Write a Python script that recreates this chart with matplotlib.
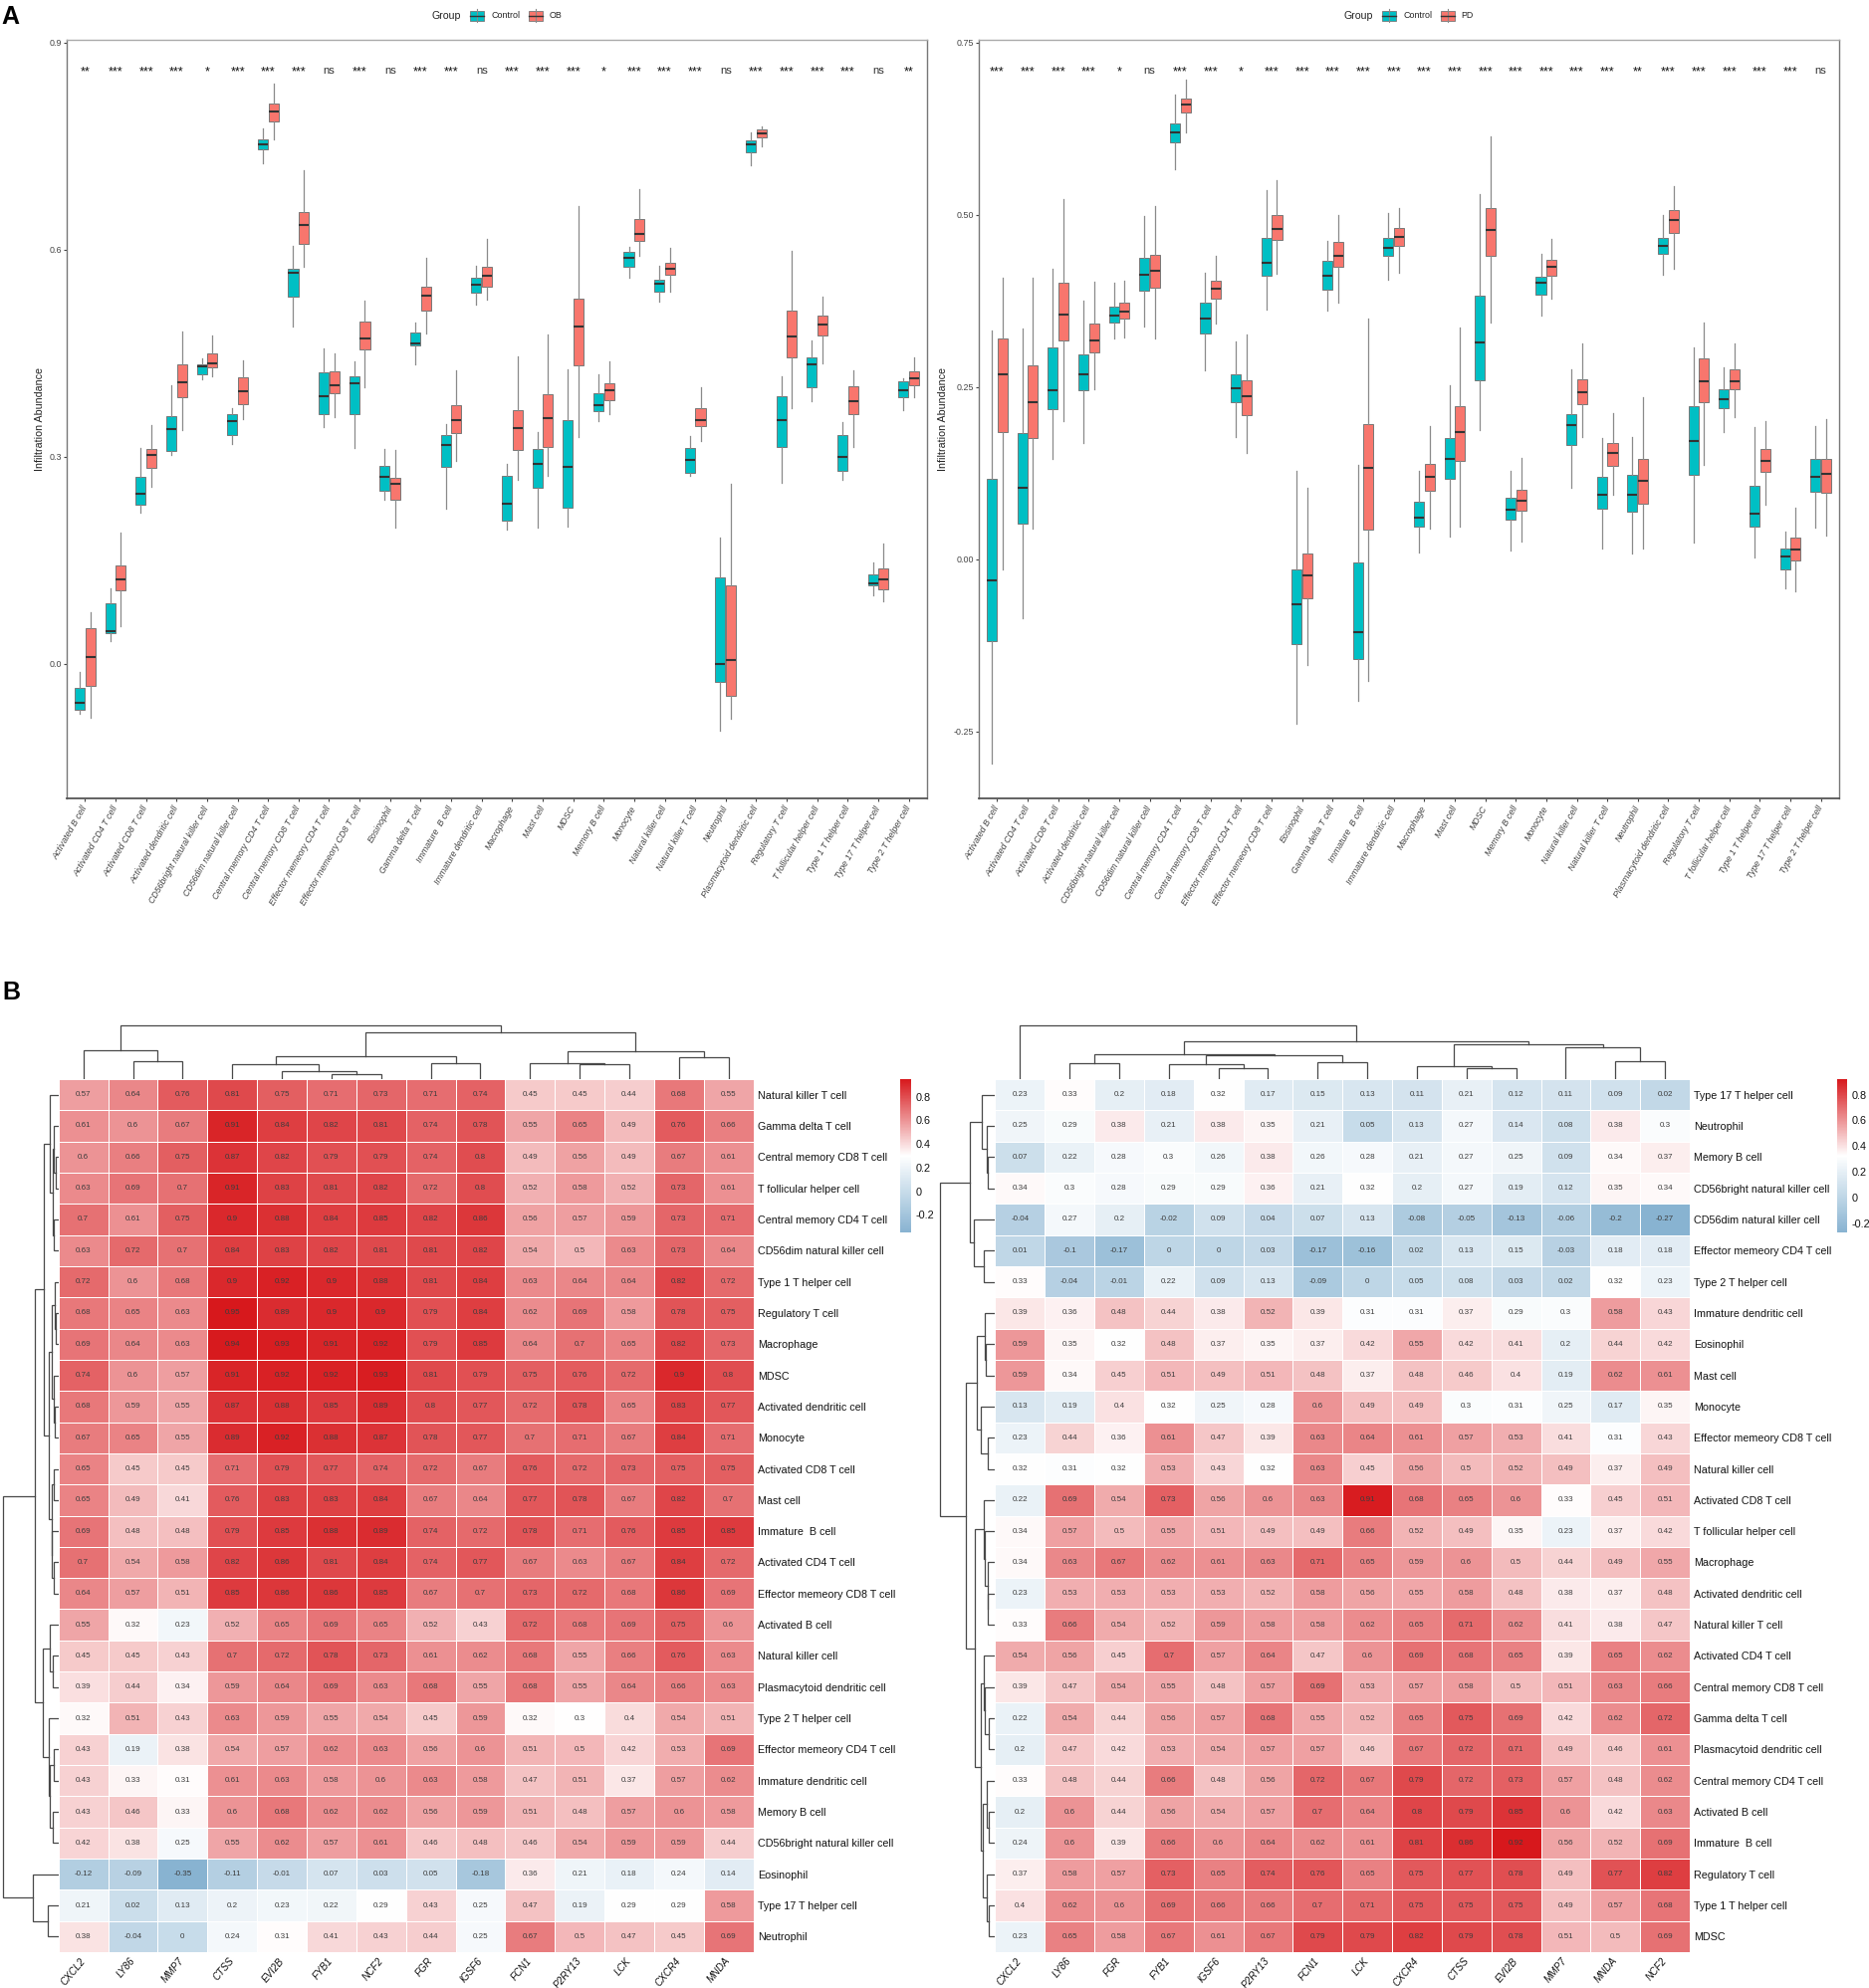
import numpy as np
import matplotlib
matplotlib.use("Agg")
import matplotlib.pyplot as plt
from matplotlib.colors import LinearSegmentedColormap
from matplotlib.patches import Rectangle
from matplotlib.lines import Line2D

plt.rcParams['font.family'] = ['Liberation Sans', 'DejaVu Sans']

W, H = 1877, 1997

cell_types = ['Activated B cell', 'Activated CD4 T cell', 'Activated CD8 T cell', 'Activated dendritic cell',
              'CD56bright natural killer cell', 'CD56dim natural killer cell', 'Central memory CD4 T cell',
              'Central memory CD8 T cell', 'Effector memeory CD4 T cell', 'Effector memeory CD8 T cell',
              'Eosinophil', 'Gamma delta T cell', 'Immature  B cell', 'Immature dendritic cell', 'Macrophage',
              'Mast cell', 'MDSC', 'Memory B cell', 'Monocyte', 'Natural killer cell', 'Natural killer T cell',
              'Neutrophil', 'Plasmacytoid dendritic cell', 'Regulatory T cell', 'T follicular helper cell',
              'Type 1 T helper cell', 'Type 17 T helper cell', 'Type 2 T helper cell']

# box values: whisker low, q1, median, q3, whisker high
ob_control = [(-.073, -.066, -.057, -.035, -.012), (.033, .045, .048, .087, .11), (.219, .231, .246, .271, .313),
              (.303, .309, .340, .359, .404), (.412, .420, .431, .434, .443), (.318, .332, .351, .361, .371),
              (.725, .745, .752, .760, .776), (.488, .532, .566, .572, .606), (.343, .361, .388, .423, .457),
              (.313, .361, .406, .416, .438), (.238, .25, .271, .287, .311), (.434, .461, .464, .48, .494),
              (.225, .285, .317, .331, .348), (.521, .537, .549, .559, .577), (.195, .207, .232, .272, .289),
              (.198, .255, .29, .311, .336), (.199, .226, .285, .353, .427), (.351, .366, .375, .392, .419),
              (.559, .575, .588, .597, .604), (.524, .539, .551, .557, .577), (.273, .276, .296, .313, .33),
              (-.097, -.026, -.001, .125, .183), (.722, .741, .752, .759, .77), (.2625, .314, .353, .388, .416),
              (.381, .40, .434, .444, .469), (.266, .28, .299, .332, .35), (.099, .113, .116, .13, .147),
              (.368, .386, .397, .409, .413)]
ob_case = [(-.078, -.032, .010, .052, .074), (.054, .106, .123, .143, .19), (.257, .284, .303, .311, .346),
           (.339, .386, .408, .434, .482), (.416, .430, .435, .45, .475), (.355, .376, .395, .415, .439),
           (.760, .786, .80, .812, .841), (.575, .608, .636, .655, .715), (.357, .392, .403, .424, .45),
           (.401, .456, .472, .496, .526), (.197, .237, .261, .27, .31), (.479, .512, .533, .546, .588),
           (.294, .334, .353, .375, .425), (.528, .547, .562, .575, .616), (.266, .31, .342, .367, .446),
           (.273, .314, .356, .39, .477), (.328, .432, .488, .529, .663), (.361, .382, .397, .406, .438),
           (.591, .612, .623, .645, .688), (.539, .563, .572, .581, .603), (.323, .345, .353, .37, .401),
           (-.08, -.047, .006, .113, .261), (.75, .763, .768, .774, .778), (.37, .444, .474, .512, .598),
           (.435, .476, .491, .504, .532), (.314, .361, .381, .402, .425), (.09, .108, .123, .1375, .174),
           (.386, .404, .414, .424, .444)]
ob_sig = ['**', '***', '***', '***', '*', '***', '***', '***', 'ns', '***', 'ns', '***', '***', 'ns',
          '***', '***', '***', '*', '***', '***', '***', 'ns', '***', '***', '***', '***', 'ns', '**']

pd_control = [(-.297, -.119, -.031, .1166, .332), (-.085, .0525, .1045, .183, .335), (.145, .218, .246, .307, .421),
              (.169, .245, .269, .298, .376), (.320, .343, .354, .367, .401), (.338, .39, .413, .437, .498),
              (.566, .605, .619, .633, .675), (.275, .328, .35, .373, .416), (.177, .228, .248, .269, .316),
              (.363, .411, .43, .466, .536), (-.239, -.123, -.065, -.015, .128), (.361, .392, .412, .433, .462),
              (-.206, -.145, -.105, -.004, .137), (.406, .44, .452, .467, .502), (.01, .047, .061, .083, .128),
              (.033, .117, .145, .176, .252), (.188, .26, .315, .382, .53), (.013, .057, .072, .09, .129),
              (.354, .384, .402, .41, .444), (.104, .166, .195, .211, .276), (.015, .074, .094, .12, .176),
              (.009, .069, .094, .123, .177), (.413, .443, .455, .467, .499), (.024, .123, .172, .222, .307),
              (.184, .22, .232, .247, .279), (.003, .048, .066, .106, .192), (-.042, -.015, .004, .015, .04),
              (.046, .098, .12, .146, .193)]
pd_case = [(-.015, .185, .268, .320, .408), (.044, .176, .228, .281, .408), (.201, .317, .355, .402, .523),
           (.247, .301, .317, .342, .403), (.322, .349, .36, .372, .404), (.321, .394, .419, .442, .512),
           (.62, .648, .66, .669, .696), (.342, .378, .393, .405, .44), (.155, .21, .237, .26, .326),
           (.414, .463, .48, .499, .55), (-.154, -.057, -.024, .008, .104), (.372, .424, .44, .46, .5),
           (-.177, .043, .133, .196, .35), (.416, .455, .468, .481, .51), (.045, .099, .12, .138, .193),
           (.047, .143, .184, .223, .337), (.344, .44, .478, .51, .614), (.026, .07, .085, .101, .147),
           (.378, .412, .424, .435, .465), (.177, .225, .243, .262, .313), (.094, .136, .154, .169, .212),
           (.016, .08, .114, .145, .235), (.422, .473, .493, .507, .541), (.137, .228, .258, .291, .343),
           (.207, .247, .258, .276, .313), (.079, .127, .143, .16, .201), (-.047, -.002, .014, .031, .075),
           (.034, .097, .124, .145, .204)]
pd_sig = ['***', '***', '***', '***', '*', 'ns', '***', '***', '*', '***', '***', '***', '***', '***',
          '***', '***', '***', '***', '***', '***', '***', '**', '***', '***', '***', '***', '***', 'ns']

ob_genes = ['CXCL2', 'LY86', 'MMP7', 'CTSS', 'EVI2B', 'FYB1', 'NCF2', 'FGR', 'IGSF6', 'FCN1', 'P2RY13', 'LCK', 'CXCR4', 'MNDA']
ob_rows = ['Natural killer T cell', 'Gamma delta T cell', 'Central memory CD8 T cell', 'T follicular helper cell',
           'Central memory CD4 T cell', 'CD56dim natural killer cell', 'Type 1 T helper cell', 'Regulatory T cell',
           'Macrophage', 'MDSC', 'Activated dendritic cell', 'Monocyte', 'Activated CD8 T cell', 'Mast cell',
           'Immature  B cell', 'Activated CD4 T cell', 'Effector memeory CD8 T cell', 'Activated B cell',
           'Natural killer cell', 'Plasmacytoid dendritic cell', 'Type 2 T helper cell', 'Effector memeory CD4 T cell',
           'Immature dendritic cell', 'Memory B cell', 'CD56bright natural killer cell', 'Eosinophil',
           'Type 17 T helper cell', 'Neutrophil']
ob_corr = [[.57, .64, .76, .81, .75, .71, .73, .71, .74, .45, .45, .44, .68, .55],
           [.61, .6, .67, .91, .84, .82, .81, .74, .78, .55, .65, .49, .76, .66],
           [.6, .66, .75, .87, .82, .79, .79, .74, .8, .49, .56, .49, .67, .61],
           [.63, .69, .7, .91, .83, .81, .82, .72, .8, .52, .58, .52, .73, .61],
           [.7, .61, .75, .9, .88, .84, .85, .82, .86, .56, .57, .59, .73, .71],
           [.63, .72, .7, .84, .83, .82, .81, .81, .82, .54, .5, .63, .73, .64],
           [.72, .6, .68, .9, .92, .9, .88, .81, .84, .63, .64, .64, .82, .72],
           [.68, .65, .63, .95, .89, .9, .9, .79, .84, .62, .69, .58, .78, .75],
           [.69, .64, .63, .94, .93, .91, .92, .79, .85, .64, .7, .65, .82, .73],
           [.74, .6, .57, .91, .92, .92, .93, .81, .79, .75, .76, .72, .9, .8],
           [.68, .59, .55, .87, .88, .85, .89, .8, .77, .72, .78, .65, .83, .77],
           [.67, .65, .55, .89, .92, .88, .87, .78, .77, .7, .71, .67, .84, .71],
           [.65, .45, .45, .71, .79, .77, .74, .72, .67, .76, .72, .73, .75, .75],
           [.65, .49, .41, .76, .83, .83, .84, .67, .64, .77, .78, .67, .82, .7],
           [.69, .48, .48, .79, .85, .88, .89, .74, .72, .78, .71, .76, .85, .85],
           [.7, .54, .58, .82, .86, .81, .84, .74, .77, .67, .63, .67, .84, .72],
           [.64, .57, .51, .85, .86, .86, .85, .67, .7, .73, .72, .68, .86, .69],
           [.55, .32, .23, .52, .65, .69, .65, .52, .43, .72, .68, .69, .75, .6],
           [.45, .45, .43, .7, .72, .78, .73, .61, .62, .68, .55, .66, .76, .63],
           [.39, .44, .34, .59, .64, .69, .63, .68, .55, .68, .55, .64, .66, .63],
           [.32, .51, .43, .63, .59, .55, .54, .45, .59, .32, .3, .4, .54, .51],
           [.43, .19, .38, .54, .57, .62, .63, .56, .6, .51, .5, .42, .53, .69],
           [.43, .33, .31, .61, .63, .58, .6, .63, .58, .47, .51, .37, .57, .62],
           [.43, .46, .33, .6, .68, .62, .62, .56, .59, .51, .48, .57, .6, .58],
           [.42, .38, .25, .55, .62, .57, .61, .46, .48, .46, .54, .59, .59, .44],
           [-.12, -.09, -.35, -.11, -.01, .07, .03, .05, -.18, .36, .21, .18, .24, .14],
           [.21, .02, .13, .2, .23, .22, .29, .43, .25, .47, .19, .29, .29, .58],
           [.38, -.04, 0, .24, .31, .41, .43, .44, .25, .67, .5, .47, .45, .69]]

pd_genes = ['CXCL2', 'LY86', 'FGR', 'FYB1', 'IGSF6', 'P2RY13', 'FCN1', 'LCK', 'CXCR4', 'CTSS', 'EVI2B', 'MMP7', 'MNDA', 'NCF2']
pd_rows = ['Type 17 T helper cell', 'Neutrophil', 'Memory B cell', 'CD56bright natural killer cell',
           'CD56dim natural killer cell', 'Effector memeory CD4 T cell', 'Type 2 T helper cell',
           'Immature dendritic cell', 'Eosinophil', 'Mast cell', 'Monocyte', 'Effector memeory CD8 T cell',
           'Natural killer cell', 'Activated CD8 T cell', 'T follicular helper cell', 'Macrophage',
           'Activated dendritic cell', 'Natural killer T cell', 'Activated CD4 T cell', 'Central memory CD8 T cell',
           'Gamma delta T cell', 'Plasmacytoid dendritic cell', 'Central memory CD4 T cell', 'Activated B cell',
           'Immature  B cell', 'Regulatory T cell', 'Type 1 T helper cell', 'MDSC']
pd_corr = [[.23, .33, .2, .18, .32, .17, .15, .13, .11, .21, .12, .11, .09, .02],
           [.25, .29, .38, .21, .38, .35, .21, .05, .13, .27, .14, .08, .38, .3],
           [.07, .22, .28, .3, .26, .38, .26, .28, .21, .27, .25, .09, .34, .37],
           [.34, .3, .28, .29, .29, .36, .21, .32, .2, .27, .19, .12, .35, .34],
           [-.04, .27, .2, -.02, .09, .04, .07, .13, -.08, -.05, -.13, -.06, -.2, -.27],
           [.01, -.1, -.17, 0, 0, .03, -.17, -.16, .02, .13, .15, -.03, .18, .18],
           [.33, -.04, -.01, .22, .09, .13, -.09, 0, .05, .08, .03, .02, .32, .23],
           [.39, .36, .48, .44, .38, .52, .39, .31, .31, .37, .29, .3, .58, .43],
           [.59, .35, .32, .48, .37, .35, .37, .42, .55, .42, .41, .2, .44, .42],
           [.59, .34, .45, .51, .49, .51, .48, .37, .48, .46, .4, .19, .62, .61],
           [.13, .19, .4, .32, .25, .28, .6, .49, .49, .3, .31, .25, .17, .35],
           [.23, .44, .36, .61, .47, .39, .63, .64, .61, .57, .53, .41, .31, .43],
           [.32, .31, .32, .53, .43, .32, .63, .45, .56, .5, .52, .49, .37, .49],
           [.22, .69, .54, .73, .56, .6, .63, .91, .68, .65, .6, .33, .45, .51],
           [.34, .57, .5, .55, .51, .49, .49, .66, .52, .49, .35, .23, .37, .42],
           [.34, .63, .67, .62, .61, .63, .71, .65, .59, .6, .5, .44, .49, .55],
           [.23, .53, .53, .53, .53, .52, .58, .56, .55, .58, .48, .38, .37, .48],
           [.33, .66, .54, .52, .59, .58, .58, .62, .65, .71, .62, .41, .38, .47],
           [.54, .56, .45, .7, .57, .64, .47, .6, .69, .68, .65, .39, .65, .62],
           [.39, .47, .54, .55, .48, .57, .69, .53, .57, .58, .5, .51, .63, .66],
           [.22, .54, .44, .56, .57, .68, .55, .52, .65, .75, .69, .42, .62, .72],
           [.2, .47, .42, .53, .54, .57, .57, .46, .67, .72, .71, .49, .46, .61],
           [.33, .48, .44, .66, .48, .56, .72, .67, .79, .72, .73, .57, .48, .62],
           [.2, .6, .44, .56, .54, .57, .7, .64, .8, .79, .85, .6, .42, .63],
           [.24, .6, .39, .66, .6, .64, .62, .61, .81, .86, .92, .56, .52, .69],
           [.37, .58, .57, .73, .65, .74, .76, .65, .75, .77, .78, .49, .77, .82],
           [.4, .62, .6, .69, .66, .66, .7, .71, .75, .75, .75, .49, .57, .68],
           [.23, .65, .58, .67, .61, .67, .79, .79, .82, .79, .78, .51, .5, .69]]

# dendrograms: (height, left, right), None is a leaf
ob_col_tree = (161, (86, None, (53, None, None)),
               (141, (69, (45, None, (23, None, (16, None, None))), (47, None, None)),
                (83, (48, None, (45, None, None)), (66, None, None))))
pd_col_tree = (161, None,
               (113, (76, (48, None, None),
                      (71, (45, None, (34, None, None)), (52, None, None))),
                (104, (40, None, (32, None, None)),
                 (96, None, (53, None, None)))))
ob_row_tree = (167,
               (73,
                (45,
                 (26, None, (17, (13, None, (9, None, None)), (15, None, None))),
                 (30,
                  (19, (11, None, (9, None, None)), (15, None, (11, None, None))),
                  (20, (14, None, None), (19, None, (15, None, None))))),
                (49,
                 (26, None, (16, None, None)),
                 (30, None, (27, (15, None, None), (17, None, None))))),
               (79, None, (33, None, None)))
pd_row_tree = (165,
               (74,
                (36, None, (22, None, (19, None, None))),
                (60, None, (31, None, None))),
               (86,
                (52,
                 (27, None, (24, None, None)),
                 (40, None, (20, None, None))),
                (58,
                 (32, None, (29, None, (20, None, (18, None, None)))),
                 (40,
                  (31, None, (27, None, (17, None, None))),
                  (35, (22, None, (15, None, None)), (23, None, (15, None, None)))))))

CONTROL = '#00BFC4'
CASE = '#F8766D'
GRAY_TEXT = '#444444'
TREE = '#484848'


def px_axes(x0, y0, x1, y1):
    return fig.add_axes([x0 / W, 1 - y1 / H, (x1 - x0) / W, (y1 - y0) / H])


def boxes(ax, stats, positions, color):
    rows = [dict(whislo=s[0], q1=s[1], med=s[2], q3=s[3], whishi=s[4]) for s in stats]
    ax.bxp(rows, positions=positions, widths=0.33, patch_artist=True, showfliers=False, showcaps=False,
           manage_ticks=False,
           boxprops=dict(facecolor=color, edgecolor='#777777', linewidth=0.7),
           medianprops=dict(color='#333333', linewidth=1.5, solid_capstyle='butt'),
           whiskerprops=dict(color='#8a8a8a', linewidth=0.9))


def box_panel(rect, control, case, sig, ylim, yticks, ylabel_x):
    ax = px_axes(*rect)
    x = np.arange(len(cell_types))
    boxes(ax, control, x - 0.175, CONTROL)
    boxes(ax, case, x + 0.175, CASE)
    ax.set_xlim(-0.6, len(cell_types) - 0.4)
    ax.set_ylim(*ylim)
    ax.set_xticks(x)
    ax.set_xticklabels(cell_types, rotation=60, ha='right', va='center', rotation_mode='anchor',
                       style='italic', fontsize=6.4, color=GRAY_TEXT)
    ax.set_yticks(yticks[0])
    ax.set_yticklabels(yticks[1], fontsize=6.4, color=GRAY_TEXT)
    ax.tick_params(axis='both', length=2, width=0.8, color='#444444', pad=1.5)
    ax.tick_params(axis='x', pad=4)
    ax.spines['top'].set_color('#aaaaaa')
    ax.spines['right'].set_color('#777777')
    ax.spines['left'].set_color('#777777')
    ax.spines['bottom'].set_color('#555555')
    for side in ax.spines:
        ax.spines[side].set_linewidth(1.0)
    ax.spines['bottom'].set_linewidth(1.3)
    trans = ax.get_xaxis_transform()
    for i, s in enumerate(sig):
        if s == 'ns':
            ax.text(i, 0.955, s, transform=trans, ha='center', va='baseline', fontsize=8, color='#333333')
        else:
            ax.text(i, 0.954, s, transform=trans, ha='center', va='baseline', fontsize=9, color='#111111')
    fig.text(ylabel_x / W, 1 - 421 / H, 'Infiltration Abundance', rotation=90, ha='center', va='center',
             fontsize=7.7, color='#222222')
    return ax


def legend_key(x0, x1, color):
    # ggplot style boxplot key
    xm = (x0 + x1) / 2
    fig.add_artist(Line2D([xm / W, xm / W], [1 - 9 / H, 1 - 22 / H], color='#8a8a8a', lw=0.8))
    fig.add_artist(Rectangle((x0 / W, 1 - 20.5 / H), (x1 - x0) / W, 9 / H, transform=fig.transFigure,
                             facecolor=color, edgecolor='#777777', lw=0.6))
    fig.add_artist(Line2D([x0 / W, x1 / W], [1 - 16 / H, 1 - 16 / H], color='#333333', lw=1))


def legend_row(gx, k1, t1, k2, t2, name):
    fig.text(gx / W, 1 - 16 / H, 'Group', fontsize=7.6, ha='left', va='center', color='#222222')
    legend_key(k1, k1 + 14, CONTROL)
    fig.text(t1 / W, 1 - 16 / H, 'Control', fontsize=6.4, ha='left', va='center', color='#222222')
    legend_key(k2, k2 + 14, CASE)
    fig.text(t2 / W, 1 - 16 / H, name, fontsize=6.4, ha='left', va='center', color='#222222')


def draw_tree(ax, node, counter, vertical):
    if node is None:
        pos = counter[0] + 0.5
        counter[0] += 1
        return pos, 0
    h, a, b = node
    pa, ha_ = draw_tree(ax, a, counter, vertical)
    pb, hb = draw_tree(ax, b, counter, vertical)
    xs = [pa, pa, pb, pb]
    ys = [ha_, h, h, hb]
    if vertical:
        ax.plot(xs, ys, color=TREE, lw=0.9, solid_joinstyle='miter')
    else:
        ax.plot(ys, xs, color=TREE, lw=0.9, solid_joinstyle='miter')
    return (pa + pb) / 2, h


def heat_panel(rect, corr, rows, genes, col_tree, row_tree, row_rect, row_base, cbar_rect, ticks):
    vals = np.array(corr)
    vmin, vmax = vals.min(), vals.max()
    cmap = LinearSegmentedColormap.from_list('rb', ['#88B3D1', '#FFFFFF', '#D7181C'])
    ax = px_axes(*rect)
    mesh = ax.pcolormesh(vals, cmap=cmap, vmin=vmin, vmax=vmax, edgecolors='white', linewidth=0.6)
    ax.set_xlim(0, vals.shape[1])
    ax.set_ylim(vals.shape[0], 0)
    for i in range(vals.shape[0]):
        for j in range(vals.shape[1]):
            ax.text(j + 0.5, i + 0.5, f'{vals[i, j]:g}', ha='center', va='center', fontsize=5.8, color='#3c3c3c')
    for side in ax.spines:
        ax.spines[side].set_visible(False)
    ax.yaxis.tick_right()
    ax.set_yticks(np.arange(vals.shape[0]) + 0.5)
    ax.set_yticklabels(rows, fontsize=7.75, color='#111111')
    ax.set_xticks(np.arange(vals.shape[1]) + 0.5)
    ax.set_xticklabels(genes, rotation=50, ha='right', va='center', rotation_mode='anchor', style='italic',
                       fontsize=7.2, color='#111111')
    ax.tick_params(axis='both', length=0, pad=3)
    ax.tick_params(axis='x', pad=5)

    top = px_axes(rect[0], 1020, rect[2], rect[1])
    draw_tree(top, col_tree, [0], True)
    top.set_xlim(0, vals.shape[1])
    top.set_ylim(0, 191)
    top.axis('off')

    side = px_axes(*row_rect)
    draw_tree(side, row_tree, [0], False)
    side.set_xlim(*row_base)
    side.set_ylim(vals.shape[0], 0)
    side.axis('off')

    cax = px_axes(*cbar_rect)
    cb = fig.colorbar(mesh, cax=cax)
    cb.outline.set_visible(False)
    cb.set_ticks(ticks)
    cb.set_ticklabels([f'{t:g}' for t in ticks])
    cb.ax.tick_params(length=0, labelsize=7.8, pad=3, labelcolor='#111111')


fig = plt.figure(figsize=(W / 100, H / 100), dpi=100)

box_panel((67, 40, 931, 802), ob_control, ob_case, ob_sig, (-0.195, 0.904),
          ([0, .3, .6, .9], ['0.0', '0.3', '0.6', '0.9']), 40)
box_panel((983, 40, 1847, 802), pd_control, pd_case, pd_sig, (-0.347, 0.754),
          ([-.25, 0, .25, .5, .75], ['-0.25', '0.00', '0.25', '0.50', '0.75']), 947)
legend_row(433, 472, 493.5, 530.5, 551.5, 'OB')
legend_row(1350, 1388, 1409.5, 1447, 1467, 'PD')

heat_panel((58.8, 1084, 756.6, 1961), ob_corr, ob_rows, ob_genes, ob_col_tree, ob_row_tree,
           (0, 1084, 58.8, 1961), (177, 0), (904, 1084, 915, 1238), [-.2, 0, .2, .4, .6, .8])
heat_panel((999.4, 1084, 1697, 1961), pd_corr, pd_rows, pd_genes, pd_col_tree, pd_row_tree,
           (938, 1084, 999.4, 1961), (182, -3), (1845, 1084, 1855, 1238), [-.2, 0, .2, .4, .6, .8])

fig.text(1 / W, 1 - 24 / H, 'A', fontsize=18, fontweight='bold', ha='left', va='baseline')
fig.text(2 / W, 1 - 1004 / H, 'B', fontsize=18, fontweight='bold', ha='left', va='baseline')

fig.savefig('out.png', dpi=100)
